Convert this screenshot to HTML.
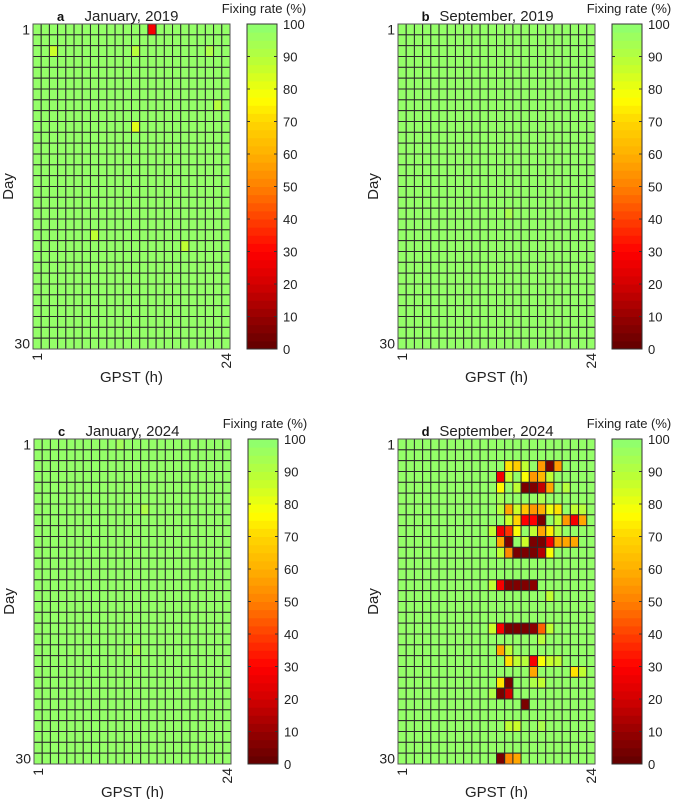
<!DOCTYPE html>
<html><head><meta charset="utf-8"><style>
html,body{margin:0;padding:0;background:#fff;}
svg{display:block;font-family:"Liberation Sans",Arial,sans-serif;}
</style></head><body>
<svg id="fig" width="685" height="799" viewBox="0 0 685 799" xmlns="http://www.w3.org/2000/svg"></svg>
<script>
// ---- data ----
const hours = Array.from({length:24},(_, i)=>i+1);
const days = Array.from({length:30},(_, i)=>i+1);
const baseValue = 98;
const cbTicks = [0,10,20,30,40,50,60,70,80,90,100];
const panelLabels = ["a","b","c","d"];
const panelTitles = ["January, 2019","September, 2019","January, 2024","September, 2024"];
// anomalies: [day, hour(1-based), value]
const anomA = [[1,15,28],[3,3,86],[3,13,90],[3,22,92],[8,23,90],[10,13,82],[20,8,88],[21,19,88]];
const anomB = [[18,14,93]];
const anomC = [[1,11,95],[7,14,92],[20,13,94]];
const anomD = [
 [3,14,72],[3,15,68],[3,16,88],[3,18,55],[3,19,5],[3,20,55],
 [4,13,28],[4,14,86],[4,16,78],[4,17,55],[4,18,62],[4,19,88],
 [5,13,76],[5,15,88],[5,16,5],[5,17,6],[5,18,18],[5,19,58],[5,21,90],
 [6,13,94],[6,18,93],
 [7,13,90],[7,14,58],[7,15,86],[7,16,66],[7,17,55],[7,18,60],[7,19,80],[7,20,72],[7,22,88],[7,23,90],
 [8,14,86],[8,15,70],[8,16,30],[8,17,30],[8,18,5],[8,20,88],[8,21,55],[8,22,28],[8,23,58],
 [9,12,88],[9,13,28],[9,14,38],[9,15,78],[9,17,88],[9,18,58],[9,19,74],[9,20,90],
 [10,13,58],[10,14,6],[10,16,86],[10,17,5],[10,18,5],[10,19,28],[10,20,58],[10,21,58],[10,22,58],
 [11,13,88],[11,14,52],[11,15,5],[11,16,5],[11,17,5],[11,18,15],[11,19,78],
 [14,12,88],[14,13,28],[14,14,6],[14,15,6],[14,16,6],[14,17,8],
 [15,19,88],
 [18,12,86],[18,13,28],[18,14,5],[18,15,5],[18,16,5],[18,17,8],[18,18,45],[18,19,88],
 [19,18,90],
 [20,13,58],[20,14,88],
 [21,14,72],[21,15,88],[21,16,90],[21,17,28],[21,18,78],[21,19,86],[21,20,88],
 [22,17,58],[22,22,72],[22,23,88],
 [23,13,72],[23,14,5],[23,17,92],[23,18,88],
 [24,12,92],[24,13,5],[24,14,20],
 [25,16,5],
 [27,14,88],[27,15,86],[27,18,93],
 [30,13,5],[30,14,52],[30,15,58]
];
const panelAnoms = [anomA, anomB, anomC, anomD];

// ---- colormap ----
const cmStops=[[0,[96,0,0]],[10,[150,0,0]],[20,[210,0,0]],[30,[255,0,0]],[40,[255,64,0]],[50,[255,128,0]],[60,[255,176,0]],[70,[255,214,0]],[77,[255,255,0]],[88,[190,255,50]],[100,[140,255,115]]];
function cmap(v){
  v=Math.max(0,Math.min(100,v));
  for(let i=0;i<cmStops.length-1;i++){const[a,ca]=cmStops[i],[b,cb]=cmStops[i+1];
    if(v<=b){const t=(v-a)/(b-a);return`rgb(${ca.map((c,k)=>Math.round(c+(cb[k]-c)*t)).join(',')})`;}}
  return 'rgb(140,255,115)';
}
const NS="http://www.w3.org/2000/svg";
const svg=document.getElementById('fig');
function mk(tag,attrs,parent){const e=document.createElementNS(NS,tag);for(const k in attrs)e.setAttribute(k,attrs[k]);(parent||svg).appendChild(e);return e;}

const origins=[[33,24],[398,24],[34,439],[398,439]];
const GW=197, GH=325;
origins.forEach((o,p)=>{
  const [gx,gy]=o;
  const g=mk('g',{});
  
  
  const xS=h=>gx+(h-1)*GW/hours.length;
  const yS=d=>gy+(d-1)*GH/days.length;
  const cw=GW/hours.length, ch=GH/days.length;
  const M=days.map(()=>hours.map(()=>baseValue));
  panelAnoms[p].forEach(([d,h,v])=>{M[d-1][h-1]=v;});
  days.forEach((d,di)=>hours.forEach((h,hi)=>{
    const r=mk('rect',{x:xS(h),y:yS(d),width:cw,height:ch,fill:cmap(M[di][hi]),stroke:'#2a2a2a','stroke-width':1},g);
    
    
  }));
  mk('rect',{x:gx,y:gy,width:GW,height:GH,fill:'none',stroke:'#555','stroke-width':1},g);
  // titles
  const pl=mk('text',{x:gx+GW*0.14,y:gy-3,'font-size':13,'font-weight':'bold','text-anchor':'middle',fill:'#111'},g);pl.textContent=panelLabels[p];
  
  const tt=mk('text',{x:gx+GW*0.5,y:gy-3,'font-size':15,'text-anchor':'middle',fill:'#222'},g);tt.textContent=panelTitles[p];
  
  // y ticks
  [[1,'1'],[30,'30']].forEach(([d,l])=>{const t=mk('text',{x:gx-3,y:yS(d)+ch/2+5,'font-size':14,'text-anchor':'end',fill:'#222'},g);t.textContent=l;
    });
  // x ticks rotated
  [[1,'1'],[24,'24']].forEach(([h,l])=>{const cx=xS(h)+cw/2+5;const t=mk('text',{x:cx,y:gy+GH+4,'font-size':14,'text-anchor':'end',fill:'#222',transform:`rotate(-90 ${cx} ${gy+GH+4})`},g);t.textContent=l;
    });
  const xl=mk('text',{x:gx+GW/2,y:gy+GH+33,'font-size':15,'text-anchor':'middle',fill:'#222'},g);xl.textContent='GPST (h)';
  
  const yx=gx-20,yy=gy+GH/2;
  const yl=mk('text',{x:yx,y:yy,'font-size':15,'text-anchor':'middle',fill:'#222',transform:`rotate(-90 ${yx} ${yy})`},g);yl.textContent='Day';
  
  // colorbar
  const cx0=gx+214, cwid=30;
  const cb=mk('g',{},g);
  
  const N=40;
  for(let i=0;i<N;i++){const v0=i*100/N;const y=gy+GH-(i+1)*GH/N;
    mk('rect',{x:cx0,y:y,width:cwid,height:GH/N+0.5,fill:cmap(v0+100/N/2)},cb);}
  mk('rect',{x:cx0,y:gy,width:cwid,height:GH,fill:'none',stroke:'#333','stroke-width':1},cb);
  cbTicks.forEach(v=>{const y=gy+GH-v/100*GH;
    mk('line',{x1:cx0,x2:cx0+3,y1:y,y2:y,stroke:'#333'},cb);
    mk('line',{x1:cx0+cwid-3,x2:cx0+cwid,y1:y,y2:y,stroke:'#333'},cb);
    const t=mk('text',{x:cx0+cwid+6,y:y+5,'font-size':13,fill:'#222'},cb);t.textContent=v;
    });
  const ct=mk('text',{x:cx0+cwid/2+2,y:gy-11,'font-size':13,'text-anchor':'middle',fill:'#222'},cb);ct.textContent='Fixing rate (%)';
  
});
</script>
</body></html>
